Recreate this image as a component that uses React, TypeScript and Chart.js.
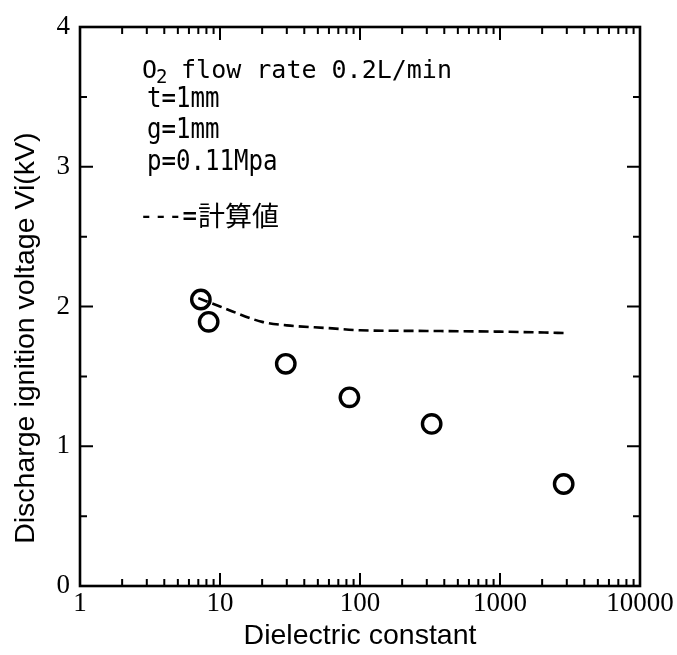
import React, { useEffect, useRef } from "react";
import { Chart, registerables } from "chart.js";

Chart.register(...registerables);

// ---- data ----
const measuredX = [7.3, 8.3, 29.5, 84, 325, 2850];
const measuredY = [2.05, 1.89, 1.59, 1.35, 1.16, 0.73];

const calcX = [7, 10, 20, 30, 60, 100, 300, 1000, 3000];
const calcY = [2.06, 2.0, 1.89, 1.865, 1.845, 1.83, 1.825, 1.82, 1.81];

const xTickValues = [
  1, 2, 3, 4, 5, 6, 7, 8, 9,
  10, 20, 30, 40, 50, 60, 70, 80, 90,
  100, 200, 300, 400, 500, 600, 700, 800, 900,
  1000, 2000, 3000, 4000, 5000, 6000, 7000, 8000, 9000,
  10000,
];
const xTickLabels = ["1", "10", "100", "1000", "10000"];
const yTickValues = [0, 0.5, 1, 1.5, 2, 2.5, 3, 3.5, 4];
const yTickLabels = ["0", "1", "2", "3", "4"];

const xTitle = "Dielectric constant";
const yTitle = "Discharge ignition voltage Vi(kV)";
const noteLine1a = "O";
const noteLine1sub = "2";
const noteLine1b = " flow rate 0.2L/min";
const noteLines = ["t=1mm", "g=1mm", "p=0.11Mpa"];
const legendDash = "---=";
const legendText = "計算値";

const isMajorX = (v: number) => xTickLabels.includes(String(v));
const isMajorY = (v: number) => yTickLabels.includes(String(v));

const SERIF = '"Liberation Serif", "Times New Roman", serif';
const SANS = '"Liberation Sans", Arial, sans-serif';
const MONO = '"DejaVu Sans Mono", monospace';
const CJK = '"Noto Sans CJK JP", sans-serif';

const drawCondensed = (ctx: any, text: string, x: number, y: number, font: string, sx: number) => {
  ctx.save();
  ctx.translate(x, y);
  ctx.scale(sx, 1);
  ctx.font = font;
  ctx.fillText(text, 0, 0);
  ctx.restore();
};

const framePlugin = {
  id: "framePlugin",
  afterDraw(chart: any) {
    const { ctx, chartArea: a, scales } = chart;
    const xs = scales.x;
    const ys = scales.y;
    ctx.save();
    ctx.strokeStyle = "#000";
    ctx.lineWidth = 2;
    xs.ticks.forEach((t: any) => {
      const px = xs.getPixelForValue(t.value);
      const L = isMajorX(t.value) ? 13 : 7;
      ctx.beginPath();
      ctx.moveTo(px, a.bottom);
      ctx.lineTo(px, a.bottom - L);
      ctx.moveTo(px, a.top);
      ctx.lineTo(px, a.top + L);
      ctx.stroke();
    });
    ys.ticks.forEach((t: any) => {
      const py = ys.getPixelForValue(t.value);
      const L = isMajorY(t.value) ? 13 : 7;
      ctx.beginPath();
      ctx.moveTo(a.left, py);
      ctx.lineTo(a.left + L, py);
      ctx.moveTo(a.right, py);
      ctx.lineTo(a.right - L, py);
      ctx.stroke();
    });
    ctx.lineWidth = 2.6;
    ctx.strokeRect(a.left, a.top, a.right - a.left, a.bottom - a.top);

    // annotation text
    ctx.fillStyle = "#000";
    ctx.textAlign = "left";
    ctx.textBaseline = "alphabetic";
    ctx.font = `25px ${MONO}`;
    ctx.fillText(noteLine1a, 142, 78);
    ctx.font = `19px ${MONO}`;
    ctx.fillText(noteLine1sub, 156, 83);
    ctx.font = `25px ${MONO}`;
    ctx.fillText(noteLine1b, 166, 78);
    noteLines.forEach((s, i) => {
      drawCondensed(ctx, s, 147, [107, 138, 170][i], `28px ${MONO}`, 0.86);
    });
    drawCondensed(ctx, legendDash, 139, 225, `28px ${MONO}`, 0.86);
    ctx.font = `27px ${CJK}`;
    ctx.fillText(legendText, 198, 226);
    ctx.restore();
  },
};

export default function App() {
  const ref = useRef<HTMLCanvasElement | null>(null);
  useEffect(() => {
    if (!ref.current) return;
    const chart = new Chart(ref.current, {
      type: "scatter",
      data: {
        datasets: [
          {
            label: "calc",
            data: calcX.map((x, i) => ({ x, y: calcY[i] })),
            showLine: true,
            borderColor: "#000",
            borderWidth: 2.6,
            borderDash: [10, 5],
            pointRadius: 0,
            cubicInterpolationMode: "monotone",
            fill: false,
          },
          {
            label: "measured",
            data: measuredX.map((x, i) => ({ x, y: measuredY[i] })),
            showLine: false,
            borderColor: "#000",
            backgroundColor: "rgba(0,0,0,0)",
            borderWidth: 3.4,
            pointRadius: 9.2,
            pointStyle: "circle",
          },
        ],
      },
      options: {
        responsive: false,
        animation: false,
        layout: { padding: { top: 27, right: 37, left: 0, bottom: 0 } },
        plugins: { legend: { display: false }, tooltip: { enabled: false } },
        scales: {
          x: {
            type: "logarithmic",
            min: 1,
            max: 10000,
            afterBuildTicks: (s: any) => {
              s.ticks = xTickValues.map((v) => ({ value: v }));
            },
            afterFit: (s: any) => {
              s.height = 69;
            },
            grid: { display: false, drawTicks: false },
            border: { display: false },
            ticks: {
              autoSkip: false,
              maxRotation: 0,
              padding: 2,
              color: "#000",
              font: { family: SERIF, size: 27 },
              callback: (v: any) => (isMajorX(Number(v)) ? String(v) : ""),
            },
            title: {
              display: true,
              text: xTitle,
              color: "#000",
              font: { family: SANS, size: 28.5 },
              padding: { top: 0, bottom: 2 },
            },
          },
          y: {
            type: "linear",
            min: 0,
            max: 4,
            afterBuildTicks: (s: any) => {
              s.ticks = yTickValues.map((v) => ({ value: v }));
            },
            afterFit: (s: any) => {
              s.width = 80;
            },
            grid: { display: false, drawTicks: false },
            border: { display: false },
            ticks: {
              autoSkip: false,
              padding: 10,
              color: "#000",
              font: { family: SERIF, size: 27 },
              callback: (v: any) => (isMajorY(Number(v)) ? String(v) : ""),
            },
            title: {
              display: true,
              text: yTitle + "        ",
              color: "#000",
              font: { family: SANS, size: 28.5 },
              padding: { top: 9, bottom: 0 },
            },
          },
        },
      },
      plugins: [framePlugin],
    } as any);
    return () => chart.destroy();
  }, []);
  return (
    <div style={{ position: "absolute", left: 0, top: 0, width: 677, height: 655 }}>
      <canvas ref={ref} width={677} height={655} style={{ display: "block" }} />
    </div>
  );
}
